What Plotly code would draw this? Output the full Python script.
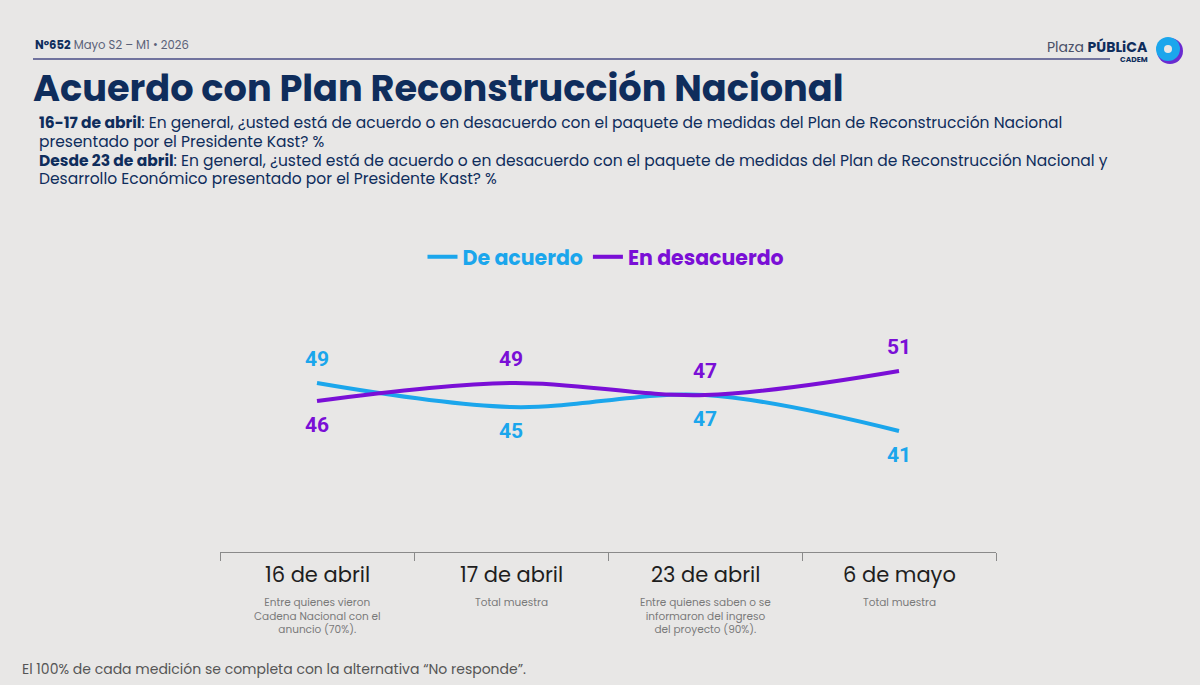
import plotly.graph_objects as go

categories = ["16 de abril", "17 de abril", "23 de abril", "6 de mayo"]
notes = ["Entre quienes vieron<br>Cadena Nacional con el<br>anuncio (70%).",
         "Total muestra",
         "Entre quienes saben o se<br>informaron del ingreso<br>del proyecto (90%).",
         "Total muestra"]
de_acuerdo = [49, 45, 47, 41]
en_desacuerdo = [46, 49, 47, 51]
# label placement: +1 above, -1 below
pos_acuerdo = [1, -1, -1, -1]
pos_desacuerdo = [-1, 1, 1, 1]

subtitle_lines = [
    "<b>16-17 de abril</b>: En general, ¿usted está de acuerdo o en desacuerdo con el paquete de medidas del Plan de Reconstrucción Nacional",
    "presentado por el Presidente Kast? %",
    "<b>Desde 23 de abril</b>: En general, ¿usted está de acuerdo o en desacuerdo con el paquete de medidas del Plan de Reconstrucción Nacional y",
    "Desarrollo Económico presentado por el Presidente Kast? %",
]

BLUE = "#1ba6ec"
PURPLE = "#7a0fd6"
NAVY = "#0f2d5c"
BG = "#e8e7e6"

x = list(range(len(categories)))

fig = go.Figure()
fig.add_trace(go.Scatter(x=x, y=de_acuerdo, mode="lines", line=dict(color=BLUE, width=4, shape="spline", smoothing=1),
                         name=f"<b><span style='color:{BLUE}'>De acuerdo</span></b>"))
fig.add_trace(go.Scatter(x=x, y=en_desacuerdo, mode="lines", line=dict(color=PURPLE, width=4, shape="spline", smoothing=1),
                         name=f"<b><span style='color:{PURPLE}'>En desacuerdo</span></b>"))

W, H = 1200, 685
L, R, T, B = 220, 204, 290, 133
PW, PH = W - L - R, H - T - B
def px(xp): return (xp - L) / PW
def py(yp): return (H - B - yp) / PH

ann = []
for i in x:
    ann.append(dict(x=i, y=de_acuerdo[i], xref="x", yref="y", text=f"<b>{de_acuerdo[i]}</b>", showarrow=False,
                    yshift=24 * pos_acuerdo[i], font=dict(family="Roboto", size=21, color=BLUE)))
    ann.append(dict(x=i, y=en_desacuerdo[i], xref="x", yref="y", text=f"<b>{en_desacuerdo[i]}</b>", showarrow=False,
                    yshift=24 * pos_desacuerdo[i], font=dict(family="Roboto", size=21, color=PURPLE)))
    ann.append(dict(x=i, y=0, xref="x", yref="paper", text=categories[i], showarrow=False, yanchor="top", yshift=-6,
                    font=dict(family="Poppins, Lato, sans-serif", size=21, color="#1e1e1e")))
    ann.append(dict(x=i, y=0, xref="x", yref="paper", text=notes[i], showarrow=False, yanchor="top", yshift=-41,
                    font=dict(family="Poppins, Lato, sans-serif", size=10.5, color="#7a7a7a")))

for k, line in enumerate(subtitle_lines):
    ann.append(dict(x=px(37), y=py(122 + 19 * k), xref="paper", yref="paper", xanchor="left", yanchor="middle",
                    showarrow=False, align="left", text=line,
                    font=dict(family="Poppins, Lato, sans-serif", size=15.5, color=NAVY)))

ann += [
    dict(x=px(33), y=py(45), xref="paper", yref="paper", xanchor="left", yanchor="middle", showarrow=False,
         text=f"<b>N°652</b><span style='color:#5a6178'> Mayo S2 – M1 • 2026</span>",
         font=dict(family="Poppins, Lato, sans-serif", size=11.6, color=NAVY)),
    dict(x=px(31), y=py(88), xref="paper", yref="paper", xanchor="left", yanchor="middle", showarrow=False,
         text="<b>Acuerdo con Plan Reconstrucción Nacional</b>",
         font=dict(family="Poppins, Open Sans, sans-serif", size=36.7, color=NAVY)),
    dict(x=px(20), y=py(669), xref="paper", yref="paper", xanchor="left", yanchor="middle", showarrow=False,
         text="El 100% de cada medición se completa con la alternativa “No responde”.",
         font=dict(family="Poppins, Lato, sans-serif", size=14, color="#555555")),
    dict(x=px(1150), y=py(47), xref="paper", yref="paper", xanchor="right", yanchor="middle", showarrow=False,
         text="<span style='color:#4a5068'>Plaza </span><b>PÚBLiCA</b>",
         font=dict(family="Poppins, Lato, sans-serif", size=14, color=NAVY)),
    dict(x=px(1150), y=py(59), xref="paper", yref="paper", xanchor="right", yanchor="middle", showarrow=False,
         text="<b>CADEM</b>", font=dict(family="Poppins, Lato, sans-serif", size=7.5, color=NAVY)),
]

shapes = [
    dict(type="line", xref="paper", yref="paper", x0=px(33), x1=px(1110), y0=py(59), y1=py(59),
         line=dict(color="#4a4c86", width=1.5)),
    dict(type="circle", xref="paper", yref="paper", x0=px(1157), x1=px(1183), y0=py(38), y1=py(64),
         fillcolor="#6a2bd0", line=dict(width=0)),
    dict(type="circle", xref="paper", yref="paper", x0=px(1156), x1=px(1180), y0=py(37), y1=py(61),
         fillcolor="#1ba6ec", line=dict(width=0)),
    dict(type="circle", xref="paper", yref="paper", x0=px(1164), x1=px(1172), y0=py(45), y1=py(53),
         fillcolor=BG, line=dict(width=0)),
]

fig.update_layout(
    width=W, height=H,
    paper_bgcolor=BG, plot_bgcolor=BG,
    margin=dict(l=L, r=R, t=T, b=B),
    showlegend=True,
    legend=dict(orientation="h", x=px(606), xanchor="center", y=py(257), yanchor="middle",
                font=dict(family="Poppins, Lato, sans-serif", size=20.5), bgcolor="rgba(0,0,0,0)",
                itemwidth=30, tracegroupgap=0),
    annotations=ann, shapes=shapes,
)
fig.update_xaxes(range=[-0.5, 3.5], showgrid=False, zeroline=False, showline=True, linecolor="#8a8a8a", linewidth=1,
                 tickvals=[-0.5, 0.5, 1.5, 2.5, 3.5], ticks="outside", ticklen=8, tickcolor="#8a8a8a",
                 showticklabels=False)
fig.update_yaxes(range=[20.83, 64.5], visible=False, showgrid=False, zeroline=False)

fig.write_html("out.html")
